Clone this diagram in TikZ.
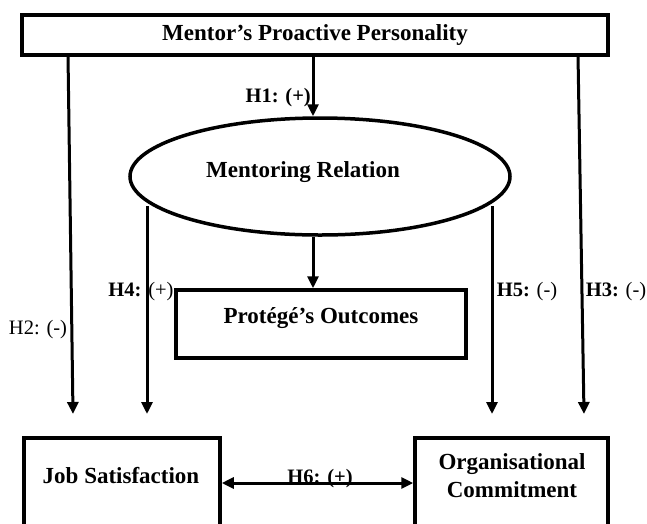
\documentclass[tikz,border=0pt]{standalone}
\usepackage{fontspec}
\setmainfont{Liberation Serif}
\usetikzlibrary{arrows.meta,shapes.geometric}
\begin{document}
\begin{tikzpicture}[x=1pt,y=-1pt,
 box/.style={draw, line width=3.5pt, inner sep=0pt},
 lbl/.style={font=\fontsize{23}{28}\selectfont\bfseries, inner sep=0pt},
 hyp/.style={font=\fontsize{20.5}{24}\selectfont, inner sep=0pt},
 arr/.style={line width=3pt, -{Triangle[length=12pt,width=11pt]}},
 darr/.style={line width=3pt, {Triangle[length=12pt,width=11pt]}-{Triangle[length=12pt,width=11pt]}}]
\useasboundingbox (0,0) rectangle (647,523);
\clip (0,0) rectangle (647,523);
% nodes
\node[box, minimum width=586pt, minimum height=40pt] (top) at (315,35) {};
\node[lbl] (toptext) at (315,35) {Mentor’s Proactive Personality};
\node[draw, ellipse, line width=3.5pt, minimum width=380pt, minimum height=117pt, inner sep=0pt] (mr) at (320,176.5) {};
\node[lbl] (mrtext) at (303,172) {Mentoring Relation};
\node[box, minimum width=290pt, minimum height=68pt] (po) at (321,324) {};
\node[lbl] (potext) at (321,318) {Protégé’s Outcomes};
\node[box, minimum width=196pt, minimum height=104pt] (job) at (122,490) {};
\node[lbl] (jobtext) at (121,476) {Job Satisfaction};
\node[box, minimum width=193pt, minimum height=104pt] (org) at (511.5,490) {};
\node[lbl, align=center] (orgtext) at (512,476) {Organisational\\Commitment};
% labels
\node[hyp, anchor=east] (h1) at (311,98) {\textbf{H1: (+)}};
\node[hyp] (h2) at (38,330) {H2: (-)};
\node[hyp] (h4) at (141,292) {\textbf{H4:} (+)};
\node[hyp] (h5) at (527,292) {\textbf{H5:} (-)};
\node[hyp] (h3) at (616,292) {\textbf{H3:} (-)};
\node[hyp] (h6) at (320,478.5) {\textbf{H6: (+)}};
% free-end coordinates
\coordinate (h2s) at (68,55);
\coordinate (h2e) at (73,414);
\coordinate (h3s) at (578,55);
\coordinate (h3e) at (584,414);
\coordinate (h4s) at (147,206);
\coordinate (h4e) at (147,414);
\coordinate (h5s) at (492,206);
\coordinate (h5e) at (492,414);
% connectors
\draw[arr] ([xshift=-2pt]top.south) -- ([xshift=-7pt]mr.north);
\draw[arr] ([xshift=-7pt]mr.south) -- ([xshift=-8pt]po.north);
\draw[arr] (h2s) -- (h2e);
\draw[arr] (h3s) -- (h3e);
\draw[arr] (h4s) -- (h4e);
\draw[arr] (h5s) -- (h5e);
\draw[darr] ([yshift=7pt]job.east) -- ([yshift=7pt]org.west);
\end{tikzpicture}
\end{document}
